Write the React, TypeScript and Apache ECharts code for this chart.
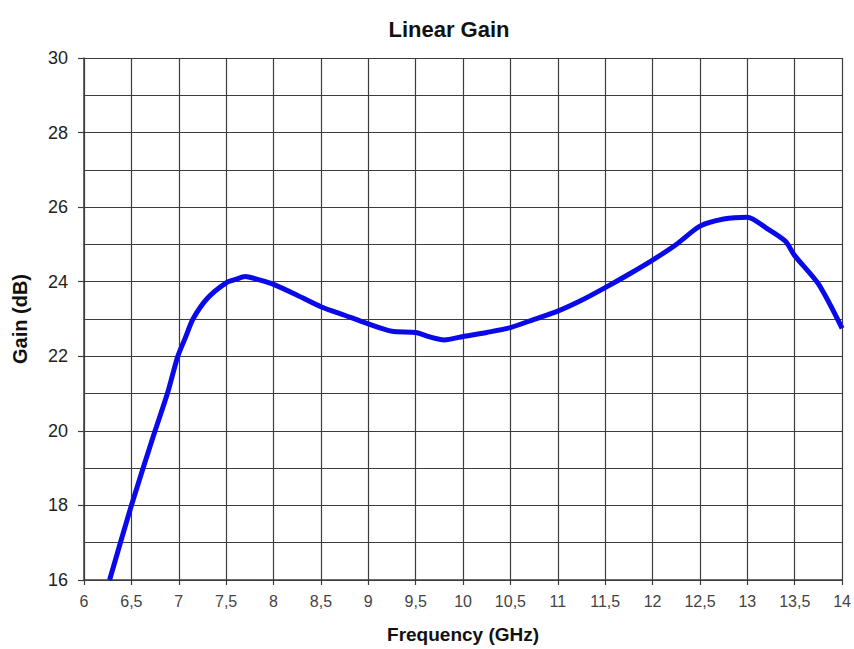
import React, { useEffect, useRef } from "react";
import * as echarts from "echarts";

const frequencies = [
  6.27, 6.5, 6.75, 6.88, 6.99, 7.07, 7.15, 7.3, 7.5, 7.6, 7.7, 7.85, 8.0,
  8.25, 8.5, 8.75, 9.0, 9.25, 9.5, 9.65, 9.8, 10.0, 10.25, 10.5, 10.75, 11.0,
  11.25, 11.5, 11.75, 12.0, 12.25, 12.5, 12.75, 13.0, 13.2, 13.4, 13.5, 13.75,
  14.0,
];
const gains = [
  16.0, 18.0, 20.0, 21.0, 22.0, 22.5, 23.0, 23.55, 23.97, 24.06, 24.14,
  24.05, 23.93, 23.64, 23.33, 23.1, 22.87, 22.67, 22.64, 22.52, 22.44, 22.53,
  22.64, 22.77, 22.99, 23.21, 23.5, 23.84, 24.2, 24.58, 25.0, 25.49, 25.68,
  25.73, 25.44, 25.09, 24.7, 23.94, 22.75,
];

const titleText = "Linear Gain";
const xName = "Frequency (GHz)";
const yName = "Gain (dB)";

export default function App() {
  const ref = useRef<HTMLDivElement>(null);
  useEffect(() => {
    document.body.style.margin = "0";
    const chart = echarts.init(ref.current!, undefined, { renderer: "svg" });
    const grid = "#3c3c3c";
    const font = "Liberation Sans, Arial, sans-serif";
    chart.setOption({
      animation: false,
      backgroundColor: "#ffffff",
      title: {
        text: titleText,
        left: 444,
        top: 13,
        textAlign: "center",
        textStyle: {
          fontFamily: font,
          fontWeight: "bold",
          fontSize: 22,
          color: "#111",
        },
      },
      grid: { left: 84, right: 8, top: 58, bottom: 62, containLabel: false },
      xAxis: {
        type: "value",
        min: 6,
        max: 14,
        interval: 0.5,
        name: xName,
        nameLocation: "middle",
        nameGap: 45,
        nameTextStyle: {
          fontFamily: font,
          fontWeight: "bold",
          fontSize: 19,
          color: "#111",
        },
        axisLine: { show: true, lineStyle: { color: grid, width: 1.5 } },
        axisTick: { show: true, length: 5, lineStyle: { color: grid, width: 1.2 } },
        axisLabel: {
          margin: 13,
          fontFamily: font,
          fontSize: 16,
          color: "#444",
          formatter: (v: number) => String(v).replace(".", ","),
        },
        splitLine: { show: true, lineStyle: { color: grid, width: 1.2 } },
      },
      yAxis: {
        type: "value",
        min: 16,
        max: 30,
        interval: 2,
        name: yName,
        nameLocation: "middle",
        nameGap: 54,
        nameTextStyle: {
          fontFamily: font,
          fontWeight: "bold",
          fontSize: 20,
          color: "#111",
        },
        axisLine: { show: true, lineStyle: { color: grid, width: 1.5 } },
        axisTick: { show: true, length: 6, lineStyle: { color: grid, width: 1.2 } },
        axisLabel: {
          margin: 16,
          fontFamily: font,
          fontSize: 18,
          color: "#222",
        },
        splitLine: { show: true, lineStyle: { color: grid, width: 1.2 } },
        minorTick: { show: false, splitNumber: 2 },
        minorSplitLine: { show: true, lineStyle: { color: grid, width: 1.2 } },
      },
      series: [
        {
          type: "line",
          data: frequencies.map((f, i) => [f, gains[i]]),
          showSymbol: false,
          smooth: 0.25,
          clip: true,
          lineStyle: { color: "#0a0ae8", width: 5 },
        },
      ],
    });
    return () => chart.dispose();
  }, []);
  return <div ref={ref} style={{ width: 854, height: 649 }} />;
}
